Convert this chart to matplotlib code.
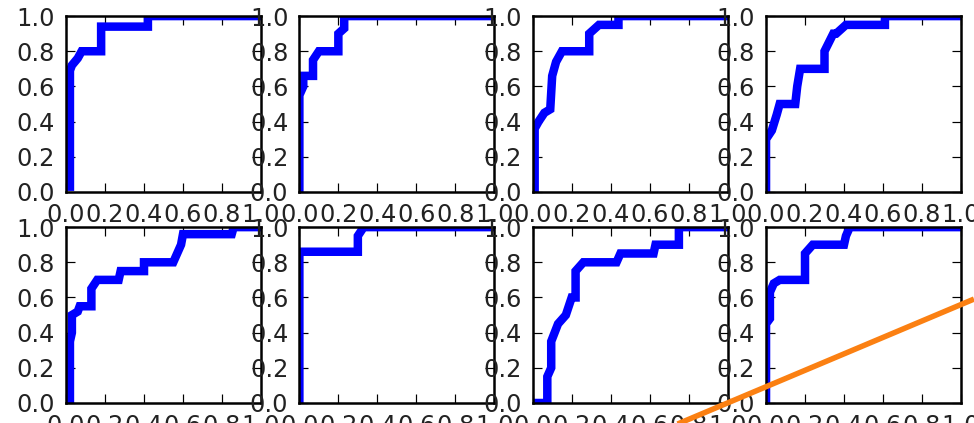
#Libraries
import matplotlib
matplotlib.use("Agg")
import matplotlib.pyplot as plt
from matplotlib.lines import Line2D

# ROC curves (false positive rate, true positive rate) for the 8 panels
fpr_1 = [0.02, 0.02, 0.03, 0.06, 0.08, 0.18, 0.18, 0.42, 0.42, 1.0]
tpr_1 = [0.03, 0.69, 0.72, 0.76, 0.80, 0.80, 0.94, 0.94, 1.0, 1.0]

fpr_2 = [0.0, 0.0, 0.02, 0.02, 0.07, 0.07, 0.1, 0.2, 0.2, 0.23, 0.23, 1.0]
tpr_2 = [0.01, 0.55, 0.6, 0.66, 0.66, 0.75, 0.8, 0.8, 0.9, 0.93, 1.0, 1.0]

fpr_3 = [0.01, 0.01, 0.03, 0.06, 0.09, 0.1, 0.12, 0.15, 0.29, 0.29, 0.34, 0.44, 0.44, 1.0]
tpr_3 = [0.01, 0.36, 0.4, 0.45, 0.47, 0.66, 0.74, 0.8, 0.8, 0.9, 0.95, 0.95, 1.0, 1.0]

fpr_4 = [0.0, 0.0, 0.03, 0.055, 0.07, 0.15, 0.16, 0.175, 0.3, 0.3, 0.345, 0.36, 0.41, 0.61, 0.61, 1.0]
tpr_4 = [0.01, 0.3, 0.35, 0.44, 0.5, 0.5, 0.6, 0.7, 0.7, 0.8, 0.9, 0.9, 0.95, 0.95, 1.0, 1.0]

fpr_5 = [0.02, 0.02, 0.03, 0.03, 0.06, 0.07, 0.13, 0.13, 0.16, 0.27, 0.28, 0.40, 0.40,
         0.55, 0.57, 0.59, 0.6, 0.85, 0.86, 1.0]
tpr_5 = [0.01, 0.35, 0.4, 0.5, 0.52, 0.55, 0.55, 0.65, 0.7, 0.7, 0.75, 0.75, 0.8,
         0.8, 0.85, 0.9, 0.96, 0.96, 1.0, 1.0]

fpr_6 = [0.0, 0.0, 0.3, 0.3, 0.33, 1.0]
tpr_6 = [0.01, 0.86, 0.86, 0.95, 1.0, 1.0]

fpr_7 = [0.0, 0.075, 0.075, 0.095, 0.095, 0.13, 0.17, 0.2, 0.22, 0.22, 0.26, 0.43, 0.45,
         0.62, 0.63, 0.75, 0.75, 1.0]
tpr_7 = [0.0, 0.0, 0.15, 0.2, 0.35, 0.45, 0.5, 0.6, 0.6, 0.75, 0.8, 0.8, 0.85,
         0.85, 0.9, 0.9, 1.0, 1.0]

fpr_8 = [0.0, 0.0, 0.02, 0.02, 0.04, 0.07, 0.2, 0.2, 0.24, 0.4, 0.41, 0.43, 1.0]
tpr_8 = [0.01, 0.45, 0.48, 0.63, 0.68, 0.7, 0.7, 0.85, 0.9, 0.9, 0.95, 1.0, 1.0]

fprs = [fpr_1, fpr_2, fpr_3, fpr_4, fpr_5, fpr_6, fpr_7, fpr_8]
tprs = [tpr_1, tpr_2, tpr_3, tpr_4, tpr_5, tpr_6, tpr_7, tpr_8]

ticks = [0.0, 0.2, 0.4, 0.6, 0.8, 1.0]
tick_labels = ["0.0", "0.2", "0.4", "0.6", "0.8", "1.0"]

# orange stroke over the bottom right corner (figure fraction)
stroke_x = [0.693, 1.0]
stroke_y = [-0.005, 0.293]

# figure: 974x423 px, at dpi 72 one point is one pixel
fig, axes = plt.subplots(2, 4, figsize=(974 / 72, 423 / 72), dpi=72)
fig.subplots_adjust(left=0.0678, right=0.9866, bottom=0.0473, top=0.962,
                    wspace=0.197, hspace=0.2)

for ax, fpr, tpr in zip(axes.flat, fprs, tprs):
    ax.plot(fpr, tpr, color="blue", linewidth=8.5, solid_joinstyle="miter")
    ax.set_xlim(0, 1)
    ax.set_ylim(0, 1)
    ax.set_xticks(ticks)
    ax.set_xticklabels(tick_labels)
    ax.set_yticks(ticks)
    ax.set_yticklabels(tick_labels)
    ax.tick_params(direction="in", top=True, right=True, length=9, width=1.2,
                   pad=11, labelsize=24, labelcolor="#222222")
    for spine in ax.spines.values():
        spine.set_linewidth(2.5)

# orange stroke on top of everything
fig.add_artist(Line2D(stroke_x, stroke_y, transform=fig.transFigure,
                      color="#fb8012", linewidth=5.5, solid_capstyle="butt", zorder=10))

plt.savefig("out.png", dpi=72)
